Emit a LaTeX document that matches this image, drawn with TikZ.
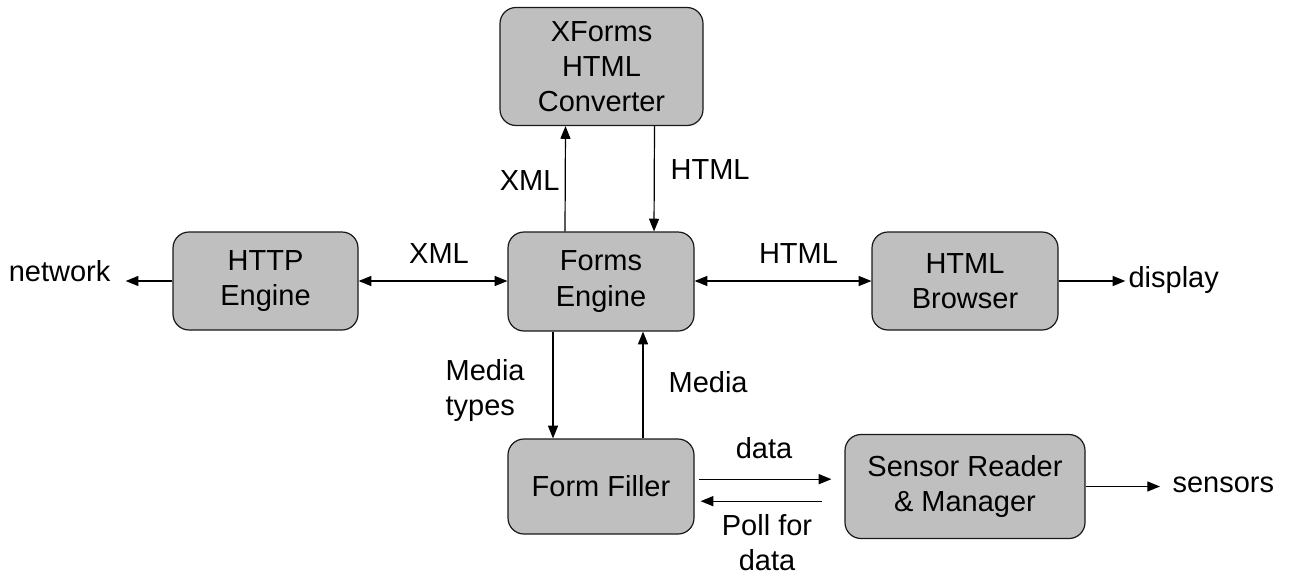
\documentclass[tikz,border=0pt]{standalone}
\usepackage{fontspec}
\setmainfont{Liberation Sans}
\usetikzlibrary{arrows.meta}

\begin{document}
\begin{tikzpicture}[x=0.75pt, y=-0.75pt, line width=0.9pt, line join=round,
    schrift/.style={font=\fontsize{21.75}{26.5}\selectfont},
    baustein/.style={schrift, draw=black!90, fill=black!25, rounded corners=12pt,
      align=center, inner sep=0pt},
    beschriftung/.style={schrift, inner sep=0pt, align=center},
    spitze/.tip={Triangle[length=9.5pt, width=7.5pt]},
    pfeil/.style={-spitze},
    doppelpfeil/.style={spitze-spitze}]
  \useasboundingbox (0,0) rectangle (1290,575);
  % Bausteine
  \node[baustein, minimum width=152.25pt, minimum height=88.5pt] (konverter) at (601.5,66.5) {XForms\\HTML\\Converter};
  \node[baustein, minimum width=138.75pt, minimum height=73.5pt] (http) at (265.5,281) {HTTP\\Engine};
  \node[baustein, minimum width=139.5pt, minimum height=74.25pt] (forms) at (601,281.5) {Forms\\Engine};
  \node[baustein, minimum width=139.5pt, minimum height=73.5pt] (browser) at (965,281) {HTML\\Browser};
  \node[baustein, minimum width=139.5pt, minimum height=71.25pt] (filler) at (601,486.5) {Form Filler};
  \node[baustein, minimum width=180pt, minimum height=78pt] (sensor) at (965,486.5) {Sensor Reader\\\& Manager};
  % Aussenwelt
  \node[beschriftung, anchor=base east] (netz) at (111,281) {network};
  \node[beschriftung, anchor=base west] (anzeige) at (1128,287) {display};
  \node[beschriftung, anchor=base west] (sensoren) at (1172,492) {sensors};
  \draw[pfeil] (http.west) -- ([xshift=11pt]netz.base east);
  \draw[pfeil] (browser.east) -- ([xshift=-2pt]anzeige.west |- browser.east);
  \draw[pfeil] (sensor.east) -- ([xshift=-9pt]sensoren.west |- sensor.east);
  % Verbindungen zum Forms Engine
  \draw[doppelpfeil] (http.east) -- (forms.west |- http.east);
  \draw[doppelpfeil] (forms.east |- browser.west) -- (browser.west);
  \draw[pfeil] ([xshift=-27pt]forms.north) -- ([xshift=-27pt]konverter.south);
  \draw[pfeil] ([xshift=39.75pt]konverter.south) -- ([xshift=39.75pt]forms.north);
  \draw[pfeil] ([xshift=-36pt]forms.south) -- ([xshift=-36pt]filler.north);
  \draw[pfeil] ([xshift=31.5pt]filler.north) -- ([xshift=31.5pt]forms.south);
  % Form Filler und Sensoren
  \draw[pfeil] ([xshift=3pt, yshift=5.5pt]filler.east) -- ([xshift=-9.75pt, yshift=5.5pt]sensor.west);
  \draw[pfeil] ([xshift=-17pt, yshift=-11pt]sensor.west) -- ([xshift=4.5pt, yshift=-11pt]filler.east);
  % Beschriftungen
  \node[beschriftung, anchor=base east] (xmloben) at (560,190) {XML};
  \node[beschriftung, anchor=base west] (htmloben) at (670,179) {HTML};
  \node[beschriftung, anchor=base] (xmllinks) at (439,263) {XML};
  \node[beschriftung, anchor=base] (htmlrechts) at (798.5,263) {HTML};
  \node[beschriftung, anchor=north west, align=left] (medientypen) at (445,359) {Media\\types};
  \node[beschriftung, anchor=base west] (medien) at (668,392) {Media};
  \node[beschriftung, anchor=base] (daten) at (764,458) {data};
  \node[beschriftung, anchor=north] (abfrage) at (767,514) {Poll for\\data};
\end{tikzpicture}
\end{document}
